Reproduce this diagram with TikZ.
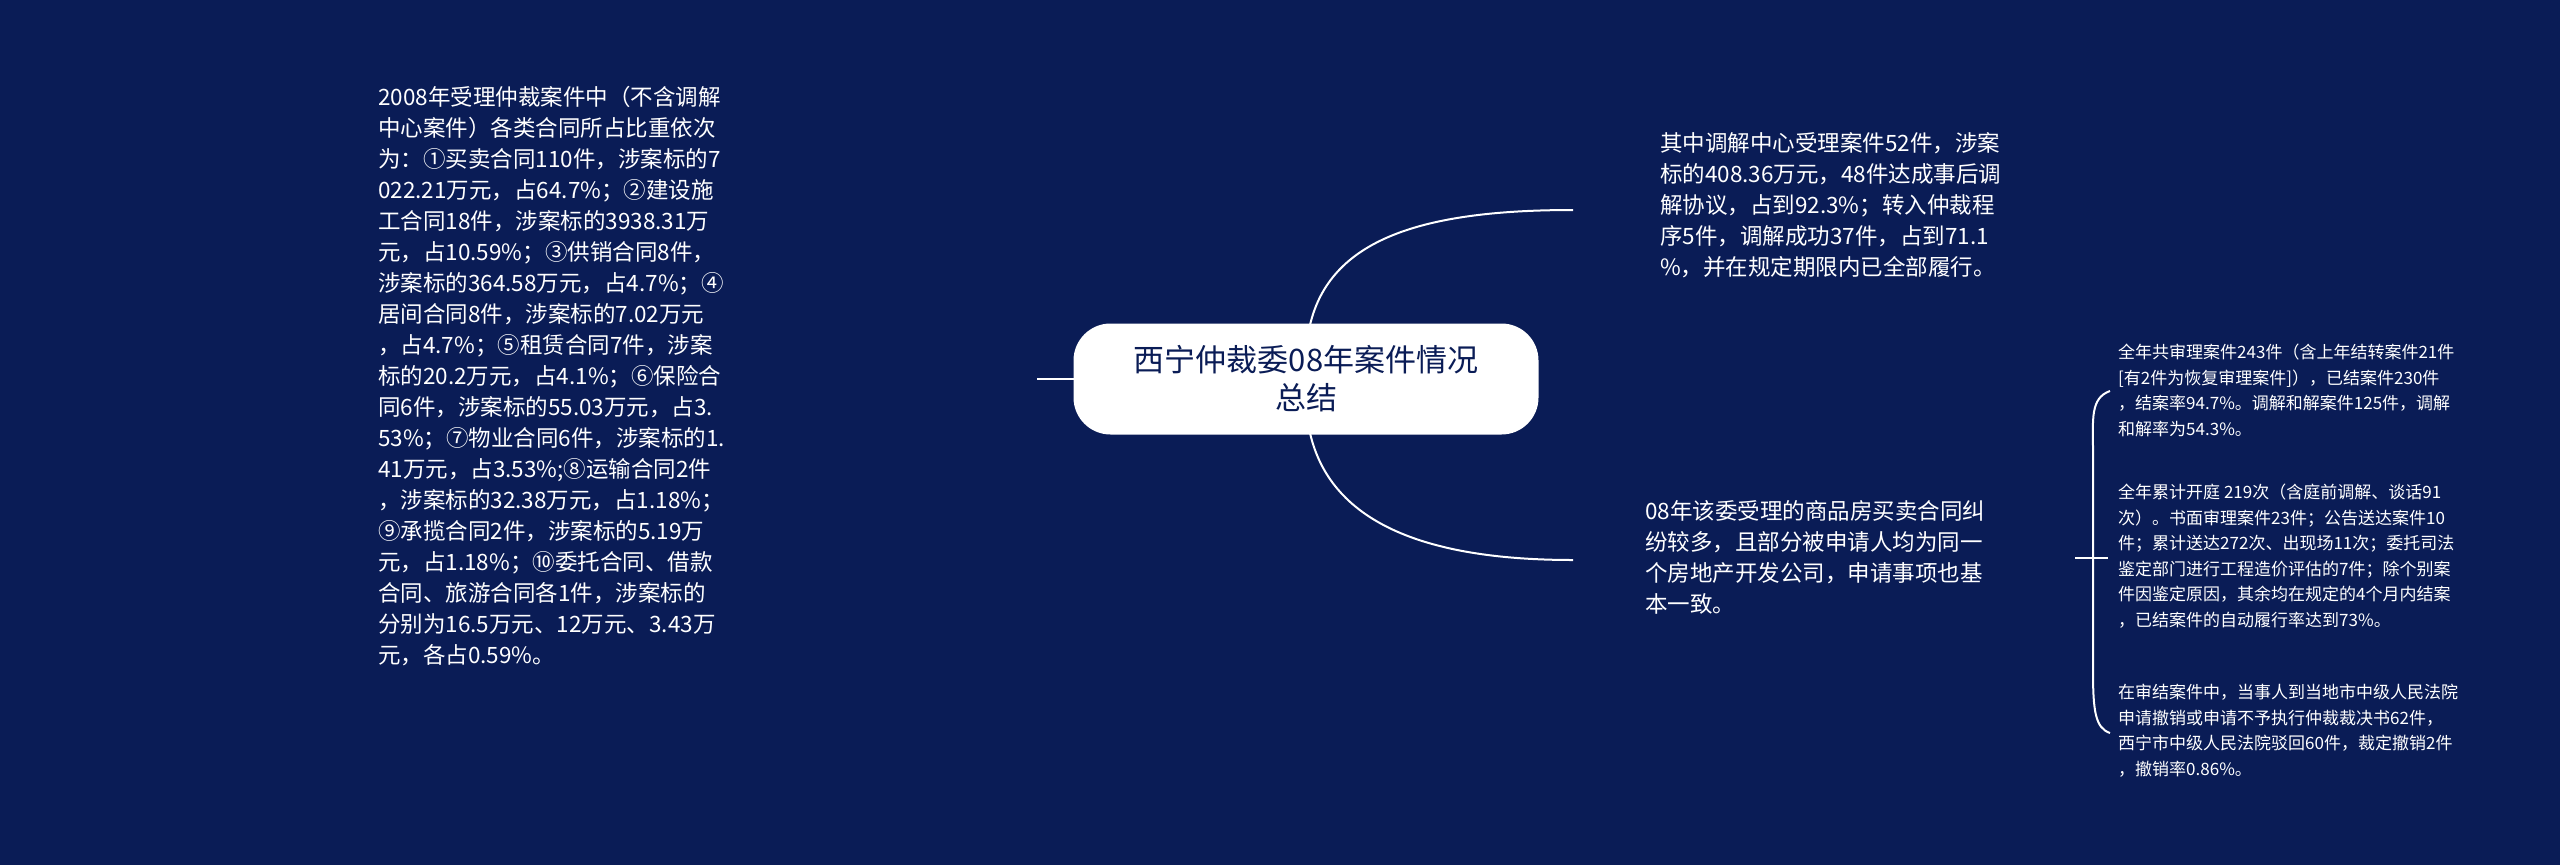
\documentclass[tikz,border=0pt]{standalone}
\usepackage{fontspec}
\setmainfont{Noto Sans CJK SC}
\definecolor{bg}{RGB}{10,28,86}
\begin{document}
\begin{tikzpicture}[x=1pt,y=-1pt,
  txt/.style={text=white,anchor=north west,align=left,inner sep=0pt},
  conn/.style={draw=white,line width=2pt}]
\fill[bg] (0,0) rectangle (2560,865);
\useasboundingbox (0,0) rectangle (2560,865);
\node[draw=white,line width=2pt,fill=white,rounded corners=36pt,minimum width=463pt,minimum height=109pt,text=bg,font=\fontsize{31}{38}\selectfont,align=center] (c) at (1306,379) {西宁仲裁委08年案件情况\\总结};
\node[txt,font=\fontsize{22.5}{31}\selectfont] (l) at (378,86) {2008年受理仲裁案件中（不含调解\\中心案件）各类合同所占比重依次\\为：①买卖合同110件，涉案标的7\\022.21万元，占64.7\%；②建设施\\工合同18件，涉案标的3938.31万\\元，占10.59\%；③供销合同8件，\\涉案标的364.58万元，占4.7\%；④\\居间合同8件，涉案标的7.02万元\\，占4.7\%；⑤租赁合同7件，涉案\\标的20.2万元，占4.1\%；⑥保险合\\同6件，涉案标的55.03万元，占3.\\53\%；⑦物业合同6件，涉案标的1.\\41万元，占3.53\%;⑧运输合同2件\\，涉案标的32.38万元，占1.18\%；\\⑨承揽合同2件，涉案标的5.19万\\元，占1.18\%；⑩委托合同、借款\\合同、旅游合同各1件，涉案标的\\分别为16.5万元、12万元、3.43万\\元，各占0.59\%。};
\coordinate (le) at (1037,379);
\draw[conn] (c.west) -- (le);
\node[txt,font=\fontsize{22.5}{31}\selectfont] (t) at (1660,132) {其中调解中心受理案件52件，涉案\\标的408.36万元，48件达成事后调\\解协议，占到92.3\%；转入仲裁程\\序5件，调解成功37件，占到71.1\\\%，并在规定期限内已全部履行。};
\node[txt,font=\fontsize{22.5}{31}\selectfont] (b) at (1645,500) {08年该委受理的商品房买卖合同纠\\纷较多，且部分被申请人均为同一\\个房地产开发公司，申请事项也基\\本一致。};
\coordinate (tu) at (1573,210);
\coordinate (bu) at (1573,560);
\draw[conn] (1310,325) .. controls (1330,240) and (1420,210) .. (tu);
\draw[conn] (1310,433) .. controls (1330,520) and (1420,560) .. (bu);
\coordinate (bl) at (2075,558);
\coordinate (br) at (2108,558);
\draw[conn] (bl) -- (br);
\draw[conn] (2110,391) .. controls (2090,398) and (2093,420) .. (2093,450) -- (2093,670) .. controls (2093,710) and (2095,728) .. (2110,733);
\node[txt,font=\fontsize{17}{25.5}\selectfont] (r1) at (2118,344) {全年共审理案件243件（含上年结转案件21件\\{[}有2件为恢复审理案件]），已结案件230件\\，结案率94.7\%。调解和解案件125件，调解\\和解率为54.3\%。};
\node[txt,font=\fontsize{17}{25.5}\selectfont] (r2) at (2118,484) {全年累计开庭 219次（含庭前调解、谈话91\\次）。书面审理案件23件；公告送达案件10\\件；累计送达272次、出现场11次；委托司法\\鉴定部门进行工程造价评估的7件；除个别案\\件因鉴定原因，其余均在规定的4个月内结案\\，已结案件的自动履行率达到73\%。};
\node[txt,font=\fontsize{17}{25.5}\selectfont] (r3) at (2118,684) {在审结案件中，当事人到当地市中级人民法院\\申请撤销或申请不予执行仲裁裁决书62件，\\西宁市中级人民法院驳回60件，裁定撤销2件\\，撤销率0.86\%。};
\end{tikzpicture}
\end{document}
